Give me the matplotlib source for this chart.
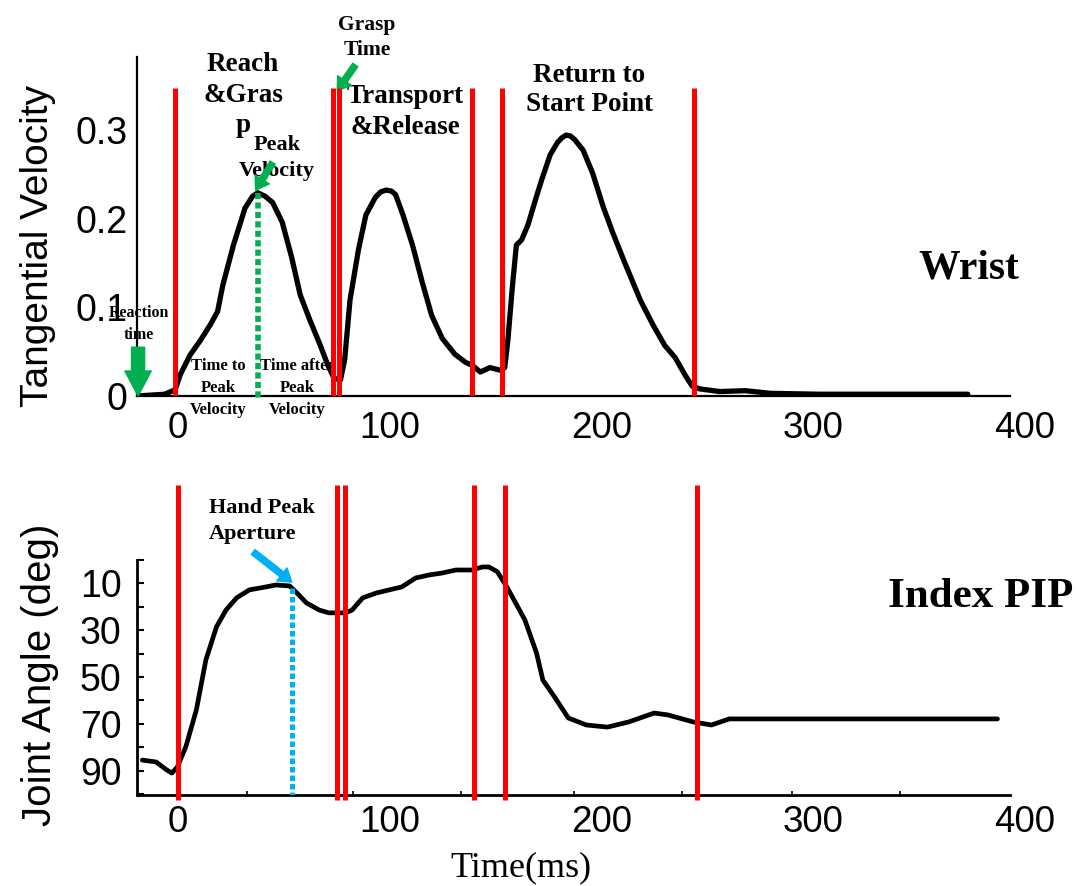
import numpy as np
import matplotlib
matplotlib.use('Agg')
import matplotlib.pyplot as plt

# wrist tangential velocity (top panel)
t_wrist = [-19, -6, -1, 1.4, 6, 11, 15.5, 19, 21.5, 26.5, 32, 35.5, 38, 41.5, 45, 49.5,
           54, 58, 62.5, 67.5, 71, 74, 77, 79, 81.5, 85.5, 89, 93.5, 96, 98.5, 101, 103,
           106.5, 111, 115.5, 120, 125, 131, 136, 139.5, 143, 147.5, 152.5, 154.5, 156,
           158, 160, 162.5, 165.5, 169, 172, 176, 179.5, 181.5, 183.5, 185.5, 187.5,
           191.5, 196, 201, 205.5, 211, 218.5, 224.5, 230, 235, 239.5, 243, 246.5, 256,
           268, 280, 303, 341, 373]
v_wrist = [0.0, 0.002, 0.007, 0.024, 0.046, 0.063, 0.080, 0.095, 0.125, 0.170, 0.212,
           0.225, 0.229, 0.225, 0.218, 0.196, 0.156, 0.114, 0.086, 0.057, 0.035, 0.020,
           0.018, 0.041, 0.108, 0.165, 0.204, 0.224, 0.230, 0.232, 0.231, 0.227, 0.204,
           0.170, 0.129, 0.091, 0.065, 0.047, 0.038, 0.034, 0.027, 0.032, 0.029, 0.032,
           0.063, 0.120, 0.170, 0.176, 0.193, 0.221, 0.244, 0.272, 0.286, 0.291, 0.294,
           0.293, 0.289, 0.277, 0.251, 0.213, 0.184, 0.151, 0.108, 0.080, 0.057, 0.043,
           0.024, 0.011, 0.008, 0.005, 0.006, 0.003, 0.002, 0.002, 0.002]

# index PIP joint angle (bottom panel)
t_pip = [-16.5, -10, -5, -2.5, 0, 4, 9, 13.5, 18.5, 23, 28, 34, 42, 46.5, 53, 56, 61,
         67, 71.5, 79.5, 82.5, 87.5, 94, 100, 106, 112.5, 119, 125, 131.5, 139, 144,
         147, 151, 155.5, 164, 169.5, 172.5, 178, 184.5, 193, 203, 213, 225, 231.5,
         243.5, 252, 260.5, 270, 387]
a_pip = [85.5, 86.3, 89.7, 91.0, 88.5, 79.9, 64.1, 42.7, 28.6, 21.4, 16.2, 12.8, 11.5,
         10.7, 11.1, 13.7, 18.4, 21.4, 22.6, 22.6, 21.4, 16.2, 14.1, 12.8, 11.5, 7.7,
         6.4, 5.6, 4.3, 4.3, 3.0, 3.0, 5.0, 11.5, 25.6, 39.7, 51.3, 58.5, 67.5, 70.5,
         71.4, 69.2, 65.4, 66.2, 69.2, 70.5, 67.9, 67.9, 67.9]

# phase boundaries (red lines)
events_top = [-1, 73.5, 76.5, 139, 153, 244]
events_bottom = [0.5, 75.5, 79, 140, 154.5, 245]

peak_velocity_time = 38
peak_aperture_time = 54

xticks = [0, 100, 200, 300, 400]
vel_ticks = [0, 0.1, 0.2, 0.3]
vel_labels = ['0', '0.1', '0.2', '0.3']
ang_ticks = [10, 30, 50, 70, 90]
ang_minor = [0, 20, 40, 60, 80, 100]
time_minor = [33, 83, 134, 187, 238, 290, 341]

red = '#ff0000'
green = '#00b050'
cyan = '#00b0f0'
serif = 'Liberation Serif'
sans = 'Liberation Sans'

W, H = 1078, 886
fig = plt.figure(figsize=(W / 100, H / 100), dpi=100)

ax1 = fig.add_axes([137 / W, 1 - 396 / H, 888 / W, 339 / H])
ax2 = fig.add_axes([137 / W, 1 - 795 / H, 888 / W, 310 / H])

for ax in (ax1, ax2):
    ax.set_xlim(-19, 400)
    for s in ('top', 'right'):
        ax.spines[s].set_visible(False)
    ax.spines['bottom'].set_bounds(-19, 393)
    ax.set_xticks(xticks)
    ax.set_xticklabels([str(x) for x in xticks], fontfamily=sans, fontsize=26.5)

# ---- top: wrist velocity
ax1.set_ylim(0, 0.382)
ax1.plot(t_wrist, v_wrist, color='black', lw=3.8, solid_joinstyle='round',
         solid_capstyle='round', zorder=3)
ax1.vlines(events_top, 0, 0.347, colors=red, lw=3.6, zorder=4)
v_peak = np.interp(peak_velocity_time, t_wrist, v_wrist)
ax1.plot([peak_velocity_time, peak_velocity_time], [v_peak, -0.005], color=green, lw=4,
         linestyle=(0, (1.1, 0.6)), clip_on=False, zorder=5)
ax1.set_yticks(vel_ticks)
ax1.set_yticklabels(vel_labels, fontfamily=sans, fontsize=27)
ax1.tick_params(axis='both', length=0)
ax1.tick_params(axis='y', pad=7)
ax1.tick_params(axis='x', pad=11)
ax1.spines['left'].set_linewidth(1.6)
ax1.spines['bottom'].set_linewidth(1.6)

bold = dict(fontfamily=serif, fontweight='bold', ha='center', va='center', clip_on=False)
ax1.text(31, 0.339, 'Reach\n&Gras\np', fontsize=19.5, linespacing=1.29, **bold)
ax1.text(47, 0.268, 'Peak\nVelocity', fontsize=16, linespacing=1.42, **bold)
ax1.text(89.5, 0.404, 'Grasp\nTime', fontsize=15.5, linespacing=1.37, **bold)
ax1.text(107.5, 0.320, 'Transport\n&Release', fontsize=19.5, linespacing=1.28, **bold)
ax1.text(194.5, 0.345, 'Return to\nStart Point', fontsize=19.5, linespacing=1.2, **bold)
ax1.text(373.5, 0.144, 'Wrist', fontsize=30, **bold)
ax1.text(-18, 0.081, 'Reaction\ntime', fontsize=11.5, linespacing=1.5, **bold)
ax1.text(19.5, 0.009, 'Time to\nPeak\nVelocity', fontsize=12, linespacing=1.5, **bold)
ax1.text(56.5, 0.009, 'Time after\nPeak\nVelocity', fontsize=12, linespacing=1.5, **bold)

thin_arrow = 'simple,head_length=0.45,head_width=0.6,tail_width=0.22'
ax1.annotate('', xy=(peak_velocity_time - 1, v_peak + 0.003), xytext=(45, 0.263),
             arrowprops=dict(arrowstyle=thin_arrow, color=green, mutation_scale=20,
                             shrinkA=0, shrinkB=0),
             annotation_clip=False)
ax1.annotate('', xy=(75.5, 0.344), xytext=(84, 0.373),
             arrowprops=dict(arrowstyle=thin_arrow, color=green, mutation_scale=20,
                             shrinkA=0, shrinkB=0),
             annotation_clip=False)
ax1.annotate('', xy=(t_wrist[0] + 0.5, 0), xytext=(t_wrist[0] + 0.5, 0.055),
             arrowprops=dict(arrowstyle='simple,head_length=0.9,head_width=0.95,tail_width=0.47',
                             color=green, mutation_scale=20, shrinkA=0, shrinkB=0),
             annotation_clip=False, zorder=6)

# ---- bottom: index PIP angle
ax2.set_ylim(100.4, -32)
ax2.spines['left'].set_bounds(0, 100.4)
ax2.plot(t_pip, a_pip, color='black', lw=3.4, solid_joinstyle='round',
         solid_capstyle='round', zorder=3)
ax2.vlines(events_bottom, -32, 102.5, colors=red, lw=3.6, zorder=4, clip_on=False)
a_peak = np.interp(peak_aperture_time, t_pip, a_pip)
ax2.plot([peak_aperture_time, peak_aperture_time], [a_peak, 100.4], color=cyan, lw=3.6,
         linestyle=(0, (1.1, 0.6)), zorder=5)
ax2.set_yticks(ang_ticks)
ax2.set_yticklabels([str(a) for a in ang_ticks], fontfamily=sans, fontsize=27)
ax2.set_yticks(ang_minor, minor=True)
ax2.set_xticks(time_minor, minor=True)
ax2.tick_params(axis='y', which='both', direction='in', length=5, width=1.5, pad=11)
ax2.tick_params(axis='x', which='major', length=0, pad=7)
ax2.tick_params(axis='x', which='minor', direction='in', length=3, width=1.2)
ax2.spines['left'].set_linewidth(2)
ax2.spines['bottom'].set_linewidth(2)

ax2.text(379, 15.8, 'Index PIP', fontsize=31, **bold)
ax2.text(15, -16.7, 'Hand Peak\nAperture', fontsize=16, linespacing=1.42,
         fontfamily=serif, fontweight='bold', ha='left', va='center', clip_on=False)
ax2.annotate('', xy=(peak_aperture_time, a_peak - 2.5), xytext=(35.8, -3.4),
             arrowprops=dict(arrowstyle=thin_arrow, color=cyan, mutation_scale=20,
                             shrinkA=0, shrinkB=0),
             annotation_clip=False)

# axis labels
fig.text(521 / W, 1 - 868 / H, 'Time(ms)', fontfamily=serif, fontsize=26,
         ha='center', va='center')
fig.text(38 / W, 1 - 246 / H, 'Tangential Velocity', fontfamily=sans, fontsize=28,
         rotation=90, ha='center', va='center')
fig.text(40 / W, 1 - 675 / H, 'Joint Angle (deg)', fontfamily=sans, fontsize=29,
         rotation=90, ha='center', va='center')

fig.savefig('out.png', dpi=100)
